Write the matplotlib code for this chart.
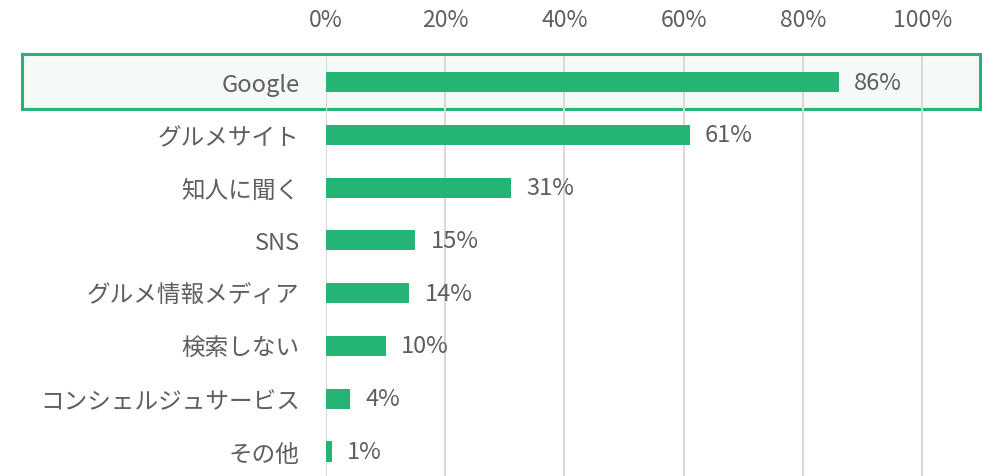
import matplotlib
matplotlib.use("Agg")
import matplotlib.pyplot as plt
from matplotlib.patches import Rectangle
import matplotlib.transforms as mtransforms

plt.rcParams['font.family'] = ['Noto Sans CJK JP', 'DejaVu Sans']

categories = ["Google", "グルメサイト", "知人に聞く", "SNS", "グルメ情報メディア",
              "検索しない", "コンシェルジュサービス", "その他"]
values = [86, 61, 31, 15, 14, 10, 4, 1]
xticks = [0, 20, 40, 60, 80, 100]
xtick_labels = ["0%", "20%", "40%", "60%", "80%", "100%"]

bar_color = "#24b574"
text_color = "#5e5e5e"
grid_color = "#d9d9d9"

fig = plt.figure(figsize=(9.82, 4.77), dpi=100)
ax = fig.add_axes([0.332, -0.004, 0.666, 0.885])

y = list(range(len(categories)))

# highlight box for first row
trans = mtransforms.blended_transform_factory(fig.transFigure, ax.transData)
rect = Rectangle((22 / 982, -0.54), (980 - 22) / 982, 1.04, transform=trans,
                 facecolor="#f5faf8", edgecolor="#24b574", linewidth=2.2,
                 clip_on=False, zorder=0.2)
ax.add_patch(rect)

ax.barh(y, values, height=0.38, color=bar_color, zorder=3)
for yi, v in zip(y, values):
    ax.annotate(f"{v}%", xy=(v, yi), xytext=(11, 0), textcoords="offset points",
                va="center", ha="left", fontsize=17, color=text_color, zorder=4)

ax.set_xlim(0, 109.7)
ax.set_ylim(7.5, -0.5)
ax.set_xticks(xticks)
ax.set_xticklabels(xtick_labels)
ax.set_yticks(y)
ax.set_yticklabels(categories)
ax.xaxis.tick_top()
ax.tick_params(axis='x', length=0, pad=18, labelsize=16.5, labelcolor=text_color)
ax.tick_params(axis='y', length=0, pad=19, labelsize=17, labelcolor=text_color)
ax.grid(axis='x', color=grid_color, linewidth=1.5)
ax.set_axisbelow(True)
for s in ax.spines.values():
    s.set_visible(False)

fig.savefig("out.png", dpi=100)
